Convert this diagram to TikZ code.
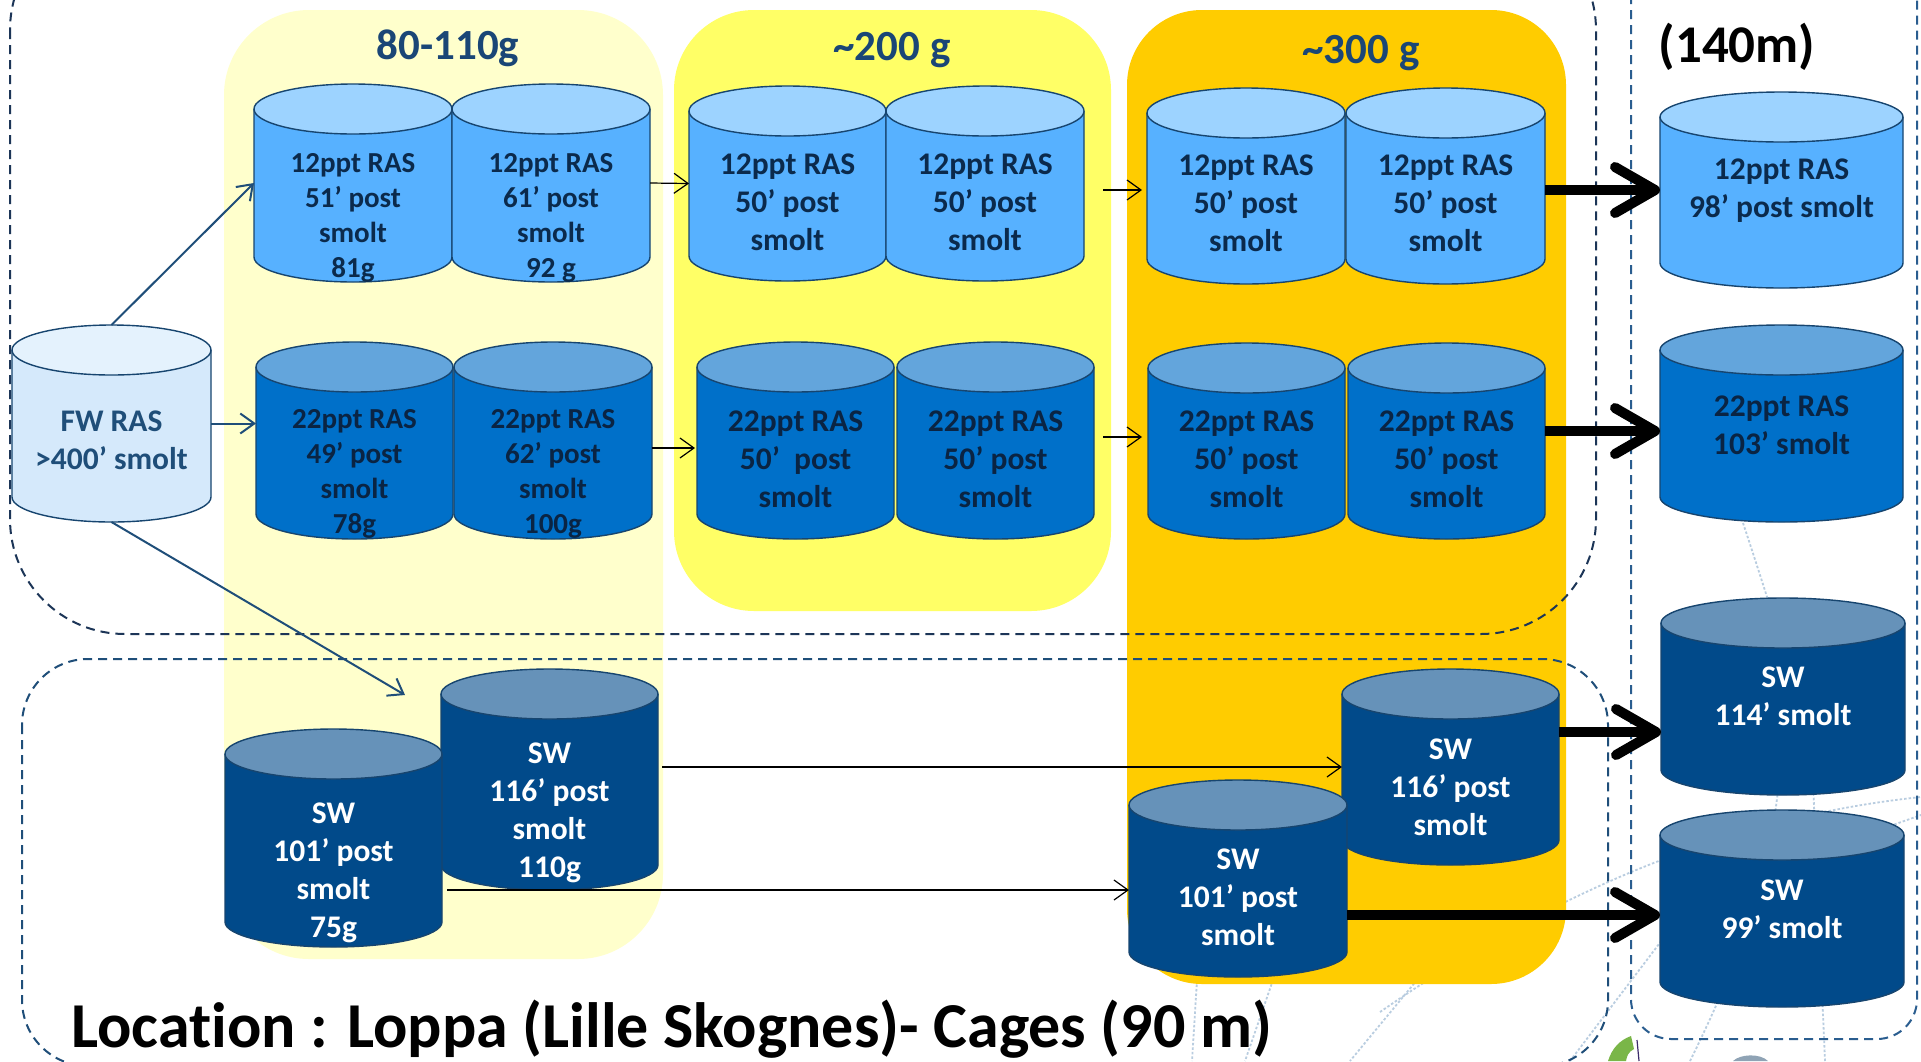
\documentclass[tikz,border=0pt]{standalone}
\usepackage{fontspec}
\setmainfont{Carlito}[Ligatures=NoCommon]
\usetikzlibrary{arrows.meta,calc}

% colours
\definecolor{navy}{HTML}{1F4E79}
\definecolor{tanknavy}{HTML}{17456F}
\definecolor{boxnavy}{HTML}{1C3557}
\definecolor{sidenavy}{HTML}{2A5D8F}
\definecolor{panelA}{HTML}{FFFFCC}
\definecolor{panelB}{HTML}{FFFF66}
\definecolor{panelC}{HTML}{FFCC00}
\definecolor{ltbody}{HTML}{57B1FF}
\definecolor{lttop}{HTML}{9DD3FF}
\definecolor{lttext}{HTML}{0B2A4C}
\definecolor{mdbody}{HTML}{0070C9}
\definecolor{mdtop}{HTML}{63A5DC}
\definecolor{mdtext}{HTML}{0A2443}
\definecolor{dkbody}{HTML}{014A8A}
\definecolor{dktop}{HTML}{6692B9}
\definecolor{dktext}{HTML}{FFFFFF}
\definecolor{fwbody}{HTML}{D5E9FB}
\definecolor{fwtop}{HTML}{E4F2FD}
\definecolor{fwtext}{HTML}{1F4E79}
\definecolor{faint}{HTML}{B9CDE0}
\definecolor{titleblue}{HTML}{1A4676}
\definecolor{logogreen}{HTML}{7AB648}
\definecolor{logopurple}{HTML}{3B2A6B}
\definecolor{logogray}{HTML}{8FA3B5}

\tikzset{
  tankline/.style={draw=tanknavy, line width=1.4pt},
  tankbox/.style={inner sep=0pt, outer sep=0pt},
  tanktxt/.style={align=center, inner sep=0pt, font=\bfseries\fontsize{31.5}{38}\selectfont},
  tanktxs/.style={align=center, inner sep=0pt, font=\bfseries\fontsize{29}{35}\selectfont},
  title/.style={text=titleblue, inner sep=0pt, font=\bfseries\fontsize{43}{50}\selectfont},
  thinarrow/.style={draw=black, line width=1.2pt, -{Straight Barb[length=14pt,width=20pt]}},
  navyarrow/.style={draw=navy, line width=2pt, -{Straight Barb[length=14pt,width=20pt]}},
  thickarrow/.style={draw=black, line width=10pt, -{Straight Barb[length=40pt,width=46pt,round]}},
  topbox/.style={draw=boxnavy, line width=2pt, dash pattern=on 9pt off 6pt},
  lowbox/.style={draw=navy, line width=2pt, dash pattern=on 9pt off 6pt},
  sidebox/.style={draw=sidenavy, line width=2pt, dash pattern=on 9pt off 6pt},
  faintline/.style={draw=faint, line width=1.8pt, dash pattern=on 2.5pt off 2pt},
}

% tank: name, left x, right x, top y, bottom y, colour set, text y, text style, text
\def\tkry{25}
\newcommand\tank[9]{%
  \pgfmathsetmacro\tkrx{(#3-#2)/2}%
  \pgfmathsetmacro\tkcx{(#3+#2)/2}%
  \pgfmathsetmacro\tkcy{(#4+#5)/2}%
  \pgfmathsetmacro\tkyt{#4+\tkry}%
  \pgfmathsetmacro\tkyb{#5-\tkry}%
  \fill[#6body] (#2,\tkyt) -- (#2,\tkyb)
     arc[start angle=180,end angle=0,x radius=\tkrx,y radius=\tkry] -- (#3,\tkyt) -- cycle;
  \draw[tankline] (#2,\tkyt) -- (#2,\tkyb)
     arc[start angle=180,end angle=0,x radius=\tkrx,y radius=\tkry] -- (#3,\tkyt);
  \filldraw[tankline,fill=#6top] (\tkcx,\tkyt) ellipse[x radius=\tkrx,y radius=\tkry];
  \node[tankbox,minimum width={#3-#2},minimum height={#5-#4}] (#1) at (\tkcx,\tkcy) {};
  \node[#8,text=#6text] (#1-t) at (\tkcx,#7) {#9};
}

\begin{document}
\begin{tikzpicture}[x=1pt,y=-1pt]
\useasboundingbox (0,0) rectangle (1921,1061);
\fill[white] (0,0) rectangle (1921,1061);

% faint background grid lines
\draw[faintline] (1743,523) .. controls (1752,550) and (1760,575) .. (1768,600);
\draw[faintline] (1380,1012) .. controls (1520,915) and (1700,820) .. (1921,797);
\draw[faintline] (1890,826) -- (1921,815);
\draw[faintline] (1825,1061) -- (1812,760);
\draw[faintline] (1690,1061) .. controls (1740,960) and (1772,870) .. (1780,770);
\draw[faintline] (1197,980) -- (1192,1061);
\draw[faintline] (1273,980) -- (1245,1061);
\draw[faintline] (1417,980) -- (1350,1061);
\draw[faintline] (1570,1061) -- (1662,940);

% partial logo at the lower edge
\fill[logogreen] (1608,1061) .. controls (1612,1048) and (1620,1040) .. (1631,1036)
  -- (1634,1049) .. controls (1628,1052) and (1627,1056) .. (1626,1061) -- cycle;
\draw[logopurple, line width=1.2pt] (1637,1040) -- (1639,1061);
\fill[logogray] (1733,1061) .. controls (1740,1054) and (1760,1053) .. (1768,1061) -- cycle;

% weight-class panels
\fill[panelA, rounded corners=85pt] (224,10) rectangle (663,959);
\fill[panelB, rounded corners=80pt] (674,10) rectangle (1111,611);
\fill[panelC, rounded corners=75pt] (1127,10) rectangle (1566,984);

% site outlines
\draw[topbox, rounded corners=115pt] (10,-85) rectangle (1596,634);
\draw[lowbox, rounded corners=66pt] (22,659) rectangle (1608,1066);
\draw[sidebox, rounded corners=40pt] (1631,-60) rectangle (1917,1039);

% panel headings
\node[title, anchor=base] (g1) at (448,59) {80-110g};
\node[title, anchor=base] (g2) at (892,60) {\textasciitilde200 g};
\node[title, anchor=base] (g3) at (1361,63) {\textasciitilde300 g};
\node[inner sep=0pt, anchor=base, font=\bfseries\fontsize{53}{60}\selectfont] (depth) at (1737,62) {(140m)};

% tanks
\tank{FW}{12}{211}{325}{522}{fw}{440}{tanktxt}{FW RAS\\>400’ smolt}

\tank{C1}{254}{452}{84}{282}{lt}{218}{tanktxs}{12ppt RAS\\51’ post\\smolt\\81g}
\tank{C2}{452}{650}{84}{282}{lt}{218}{tanktxs}{12ppt RAS\\61’ post\\smolt\\92 g}
\tank{C3}{689}{886}{86}{281}{lt}{202}{tanktxt}{12ppt RAS\\50’ post\\smolt}
\tank{C4}{886}{1084}{86}{281}{lt}{202}{tanktxt}{12ppt RAS\\50’ post\\smolt}
\tank{C5}{1147}{1345}{88}{284}{lt}{203}{tanktxt}{12ppt RAS\\50’ post\\smolt}
\tank{C6}{1346}{1545}{88}{284}{lt}{203}{tanktxt}{12ppt RAS\\50’ post\\smolt}
\tank{R1}{1660}{1903}{92}{288}{lt}{191}{tanktxt}{12ppt RAS\\98’ post smolt}

\tank{C7}{256}{453}{342}{539}{md}{474}{tanktxs}{22ppt RAS\\49’ post\\smolt\\78g}
\tank{C8}{454}{652}{342}{539}{md}{474}{tanktxs}{22ppt RAS\\62’ post\\smolt\\100g}
\tank{C9}{697}{894}{342}{539}{md}{459}{tanktxt}{22ppt RAS\\50’\ \ post\\smolt}
\tank{C10}{897}{1094}{342}{539}{md}{459}{tanktxt}{22ppt RAS\\50’ post\\smolt}
\tank{C11}{1148}{1345}{343}{539}{md}{459}{tanktxt}{22ppt RAS\\50’ post\\smolt}
\tank{C12}{1348}{1545}{343}{539}{md}{459}{tanktxt}{22ppt RAS\\50’ post\\smolt}
\tank{R2}{1660}{1903}{325}{522}{md}{425}{tanktxt}{22ppt RAS\\103’ smolt}

\tank{SW2}{441}{658}{669}{890}{dk}{813}{tanktxt}{SW\\116’ post\\smolt\\110g}
\tank{SW1}{225}{442}{729}{947}{dk}{873}{tanktxt}{SW\\101’ post\\smolt\\75g}
\tank{SW4}{1342}{1559}{669}{865}{dk}{787}{tanktxt}{SW\\116’ post\\smolt}
\tank{SW3}{1129}{1347}{780}{977}{dk}{897}{tanktxt}{SW\\101’ post\\smolt}
\tank{R3}{1661}{1905}{598}{795}{dk}{696}{tanktxt}{SW\\114’ smolt}
\tank{R4}{1660}{1904}{810}{1007}{dk}{909}{tanktxt}{SW\\99’ smolt}

% transfers from the freshwater unit
\coordinate (swin) at (405,695);
\draw[navyarrow] (FW.north) -- (C1.west);
\draw[navyarrow] (FW.east) -- (FW.east -| C7.west);
\draw[navyarrow] (FW.south) -- (swin);

% transfers between weight classes
\coordinate (a1) at ($(C4.east)+(0,6.5)$);
\coordinate (a2) at ($(C10.east)+(0,-3.5)$);
\coordinate (a3) at ($(C8.east)+(0,7.5)$);
\coordinate (s1) at ($(SW3.west)+(0,11.5)$);
\draw[thinarrow] (C2.east) -- (C3.west);
\draw[thinarrow, shorten >=2pt] (a3) -- (a3 -| C9.west);
\draw[thinarrow, shorten <=19pt, shorten >=5pt] (a1) -- (a1 -| C5.west);
\draw[thinarrow, shorten <=9pt, shorten >=6pt] (a2) -- (a2 -| C11.west);
\draw[thinarrow, shorten <=4pt] (SW4.west -| SW2.east) -- (SW4.west);
\draw[thinarrow, shorten <=5pt] (s1 -| SW1.east) -- (s1);

% transfers to the deep site
\coordinate (t1) at ($(C6.east)+(0,4)$);
\coordinate (t2) at ($(C12.east)+(0,-10)$);
\coordinate (t3) at ($(R3.west)+(0,35.5)$);
\coordinate (t4) at ($(R4.west)+(0,6.5)$);
\draw[thickarrow] (t1) -- (t1 -| R1.west);
\draw[thickarrow] (t2) -- (t2 -| R2.west);
\draw[thickarrow] (t3 -| SW4.east) -- (t3);
\draw[thickarrow] (t4 -| SW3.east) -- (t4);

% site caption
\node[inner sep=0pt, anchor=base west, font=\bfseries\fontsize{64}{70}\selectfont] (loc) at (71,1047)
  {Location : Loppa (Lille Skognes)- Cages (90 m)};
\end{tikzpicture}
\end{document}
